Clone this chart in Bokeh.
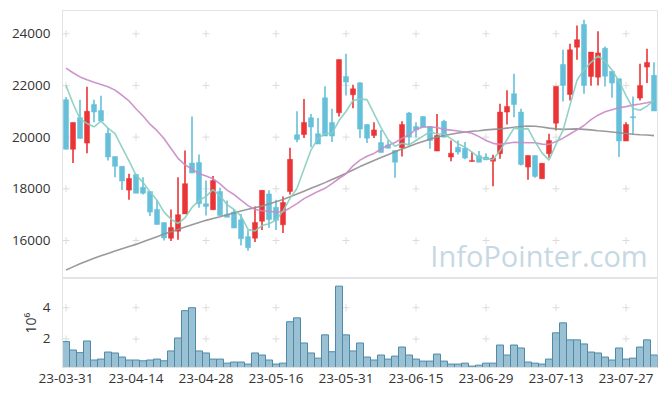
from bokeh.plotting import figure
from bokeh.layouts import column
from bokeh.models import Range1d, FixedTicker, Label, ColumnDataSource
from bokeh.embed import file_html
from bokeh.resources import INLINE

# ---- data ----
opens = [21450, 19530, 20750, 19770, 21260, 21030, 20150, 19250, 18870, 17950,
         18550, 18060, 17900, 17200, 16700, 16090, 16360, 17030, 19000, 19020,
         17420, 17190, 17900, 17000, 17100, 16800, 16150, 16090, 16750, 17800,
         17290, 16610, 17900, 20090, 20100, 20750, 20130, 21520, 20570, 20940,
         22350, 21640, 22100, 20490, 20060, 19790, 19700, 19480, 19590, 20930,
         20410, 20800, 20410, 19460, 20610, 19230, 19610, 19570, 19060, 19280,
         19230, 19070, 19360, 20970, 21680, 20970, 18840, 19290, 18390, 19360,
         20540, 22810, 21650, 23480, 24360, 22350, 22320, 23440, 22550, 22260,
         19850, 20790, 21510, 22710, 22390]
highs = [21550, 20570, 21450, 21950, 21450, 21600, 20350, 19250, 18870, 18580,
         18580, 18450, 17900, 17550, 16700, 17200, 18450, 19480, 20800, 19330,
         18320, 18500, 18040, 17550, 17200, 17030, 16400, 17320, 17940, 17940,
         17580, 17700, 19590, 21000, 21480, 20900, 20740, 21970, 21100, 23000,
         23230, 22030, 22120, 20490, 20580, 20280, 19870, 19480, 20610, 20970,
         20580, 20800, 20410, 20900, 20670, 19870, 19870, 19810, 19420, 19460,
         19380, 19320, 21290, 21810, 22450, 21100, 19290, 19290, 19000, 20130,
         21960, 23380, 23610, 24320, 24540, 23290, 24100, 23510, 22550, 22260,
         20580, 21570, 22840, 23420, 22900]
lows = [19530, 19000, 19950, 19380, 20580, 20620, 19100, 18450, 17950, 17580,
        17830, 17780, 16950, 16620, 16000, 15980, 16030, 17030, 18610, 17270,
        16970, 17190, 16970, 16900, 16480, 15810, 15600, 15940, 16410, 16480,
        16410, 16290, 17780, 19800, 19970, 19610, 19730, 20040, 19810, 20800,
        21610, 21120, 19970, 19770, 19970, 19410, 19570, 18430, 19250, 19680,
        20000, 20390, 19550, 19460, 20000, 19070, 19330, 19140, 19060, 19030,
        19120, 18100, 19160, 20490, 20770, 18900, 18350, 18430, 18390, 19200,
        20260, 21380, 21420, 22990, 21680, 21990, 22000, 21960, 21520, 19230,
        19850, 20100, 21420, 22090, 21010]
closes = [19530, 20570, 19950, 21000, 20970, 20620, 19230, 18870, 18300, 18400,
          17830, 17830, 17100, 16620, 16100, 16500, 17000, 18200, 18610, 17420,
          17320, 18320, 16970, 16900, 16480, 16070, 15720, 16700, 17940, 16810,
          16780, 17470, 19140, 19910, 20570, 20390, 19730, 20040, 20040, 23000,
          22130, 21870, 20310, 19960, 20280, 19410, 19570, 19030, 20490, 20000,
          20280, 20390, 19870, 20060, 20000, 19380, 19420, 19190, 19100, 19030,
          19120, 19190, 20970, 21190, 21260, 18940, 19290, 18480, 18990, 19870,
          21960, 22000, 23380, 23770, 22000, 23290, 23260, 22360, 22090, 19850,
          20490, 20750, 22000, 22890, 21010]
ma5 = [22000, 21300, 20700, 20530, 20400, 20620, 20350, 20140, 19600, 19080,
       18530, 18250, 17890, 17560, 17100, 16830, 16660, 16880, 17280, 17550,
       17710, 17970, 17730, 17390, 17200, 16950, 16430, 16370, 16580, 16650,
       16790, 17140, 17630, 18020, 18770, 19500, 19950, 20130, 20150, 20640,
       20990, 21420, 21470, 21450, 20910, 20370, 19910, 19650, 19760, 19700,
       19870, 20040, 20210, 20120, 20120, 19940, 19750, 19610, 19420, 19220,
       19170, 19130, 19480, 19900, 20350, 20310, 20330, 19830, 19390, 19110,
       19720, 20260, 21240, 22200, 22620, 22890, 23140, 22940, 22600, 22170,
       21610, 21110, 21040, 21200, 21430]
ma20 = [22670, 22490, 22330, 22220, 22120, 22040, 21950, 21820, 21620, 21400,
        21100, 20820, 20500, 20250, 19950, 19560, 19180, 18930, 18760, 18590,
        18500, 18390, 18190, 17950, 17780, 17560, 17350, 17200, 17150, 17130,
        17100, 17110, 17260, 17430, 17620, 17760, 17900, 18020, 18200, 18400,
        18580, 18890, 19110, 19260, 19370, 19540, 19690, 19790, 19950, 20090,
        20300, 20390, 20390, 20370, 20300, 20270, 20240, 20200, 20150, 20020,
        19870, 19760, 19720, 19760, 19800, 19790, 19780, 19780, 19730, 19720,
        19830, 19960, 20120, 20280, 20450, 20680, 20850, 20980, 21060, 21140,
        21180, 21240, 21280, 21330, 21390]
ma60 = [14860, 14980, 15100, 15210, 15310, 15410, 15500, 15590, 15680, 15770,
        15850, 15950, 16050, 16150, 16250, 16340, 16430, 16520, 16610, 16700,
        16780, 16850, 16920, 17000, 17070, 17140, 17210, 17270, 17340, 17410,
        17500, 17590, 17690, 17800, 17910, 18020, 18130, 18240, 18360, 18480,
        18600, 18730, 18860, 18980, 19100, 19210, 19320, 19430, 19540, 19640,
        19740, 19830, 19920, 20000, 20060, 20110, 20160, 20200, 20230, 20250,
        20280, 20300, 20320, 20350, 20380, 20410, 20430, 20420, 20390, 20350,
        20320, 20300, 20310, 20320, 20300, 20280, 20250, 20230, 20200, 20170,
        20140, 20110, 20090, 20080, 20060]
volume_millions = [1.83, 1.29, 1.12, 1.87, 0.65, 0.71, 1.16, 1.10, 0.84, 0.65,
                   0.65, 0.60, 0.65, 0.71, 0.60, 1.23, 2.06, 3.81, 4.00, 1.23,
                   1.10, 0.71, 0.71, 0.45, 0.52, 0.52, 0.39, 1.10, 0.97, 0.65,
                   0.39, 0.45, 3.10, 3.35, 1.74, 1.10, 0.77, 2.26, 1.18, 5.38,
                   2.26, 1.23, 1.74, 0.84, 0.65, 0.97, 0.71, 0.90, 1.48, 0.97,
                   0.71, 0.58, 0.58, 1.03, 0.58, 0.39, 0.39, 0.45, 0.26, 0.32,
                   0.45, 0.45, 1.61, 0.97, 1.61, 1.42, 0.52, 0.45, 0.39, 0.71,
                   2.39, 3.03, 1.94, 1.94, 1.68, 1.16, 1.10, 0.84, 0.65, 1.42,
                   0.71, 0.77, 1.48, 1.94, 0.97]
tick_index = [0, 10, 20, 30, 40, 50, 60, 70, 80]
tick_labels = ["23-03-31", "23-04-14", "23-04-28", "23-05-16", "23-05-31",
               "23-06-15", "23-06-29", "23-07-13", "23-07-27"]
price_ticks = [16000, 18000, 20000, 22000, 24000]
volume_ticks = [2, 4]

UP = "#ea3436"
DOWN = "#66c0da"
FONT = "Open Sans"

n = len(closes)
idx = list(range(n))
colors = [UP if c >= o else DOWN for o, c in zip(opens, closes)]
src = ColumnDataSource(dict(x=idx, o=opens, h=highs, l=lows, c=closes,
                            color=colors, v=volume_millions,
                            ma5=ma5, ma20=ma20, ma60=ma60))

xr = Range1d(-0.5, n - 0.5)

def style(fig):
    fig.xgrid.visible = False
    fig.ygrid.visible = False
    fig.outline_line_color = "#e3e3e3"
    fig.background_fill_color = "white"
    fig.border_fill_color = "white"
    for ax in fig.yaxis:
        ax.axis_line_color = "#e3e3e3"
        ax.major_tick_line_color = None
        ax.minor_tick_line_color = None
        ax.major_label_text_font = FONT
        ax.major_label_text_font_size = "13.5px"
        ax.major_label_text_color = "#333333"
        ax.major_label_standoff = 6
    for ax in fig.xaxis:
        ax.axis_line_color = "#e3e3e3"
        ax.major_tick_line_color = None
        ax.minor_tick_line_color = None
        ax.major_label_text_font = FONT
        ax.major_label_text_font_size = "13.5px"
        ax.major_label_text_color = "#333333"
        ax.major_label_standoff = 0

# ---- price panel ----
p = figure(width=665, height=278, x_range=xr, y_range=Range1d(14530, 24900),
           output_backend="svg", toolbar_location=None,
           min_border_left=62, min_border_right=8, min_border_top=10,
           min_border_bottom=0)
style(p)
p.xaxis.visible = False
p.yaxis.ticker = FixedTicker(ticks=price_ticks)

gx = [t for t in tick_index for _ in price_ticks]
gy = [v for _ in tick_index for v in price_ticks]
p.scatter(gx, gy, marker="cross", size=7, line_color="#dcdcdc", line_width=1)

wm = Label(x=83.1, y=15420, text="InfoPointer.com", text_align="right",
           text_baseline="middle", text_font=FONT, text_font_size="29px",
           text_color="#c6d8e3")
p.add_layout(wm)

p.segment(x0="x", y0="l", x1="x", y1="h", source=src, line_color="color",
          line_width=1.6)
p.vbar(x="x", bottom="o", top="c", width=0.72, source=src, fill_color="color",
       line_color="color", line_width=0.5)

p.line("x", "ma60", source=src, line_color="#8f8f8f", line_width=1.6, line_alpha=0.9)
p.line("x", "ma20", source=src, line_color="#c98ac6", line_width=1.6, line_alpha=0.9)
p.line("x", "ma5", source=src, line_color="#86cdbf", line_width=1.6, line_alpha=0.9)

# ---- volume panel ----
q = figure(width=665, height=107, x_range=xr, y_range=Range1d(0.17, 5.87),
           output_backend="svg", toolbar_location=None,
           min_border_left=62, min_border_right=8, min_border_top=0,
           min_border_bottom=0)
style(q)
q.yaxis.ticker = FixedTicker(ticks=volume_ticks)
q.yaxis.axis_label = "10⁶"
q.yaxis.axis_label_text_font = FONT
q.yaxis.axis_label_text_font_style = "normal"
q.yaxis.axis_label_text_font_size = "14px"
q.yaxis.axis_label_text_color = "#333333"
q.yaxis.axis_label_standoff = 0
q.xaxis.ticker = FixedTicker(ticks=tick_index)
q.xaxis.major_label_overrides = {t: s for t, s in zip(tick_index, tick_labels)}

vgx = [t for t in tick_index for _ in volume_ticks]
vgy = [v for _ in tick_index for v in volume_ticks]
q.scatter(vgx, vgy, marker="cross", size=7, line_color="#dcdcdc", line_width=1)

q.vbar(x="x", top="v", bottom=0, width=1.0, source=src, fill_color="#7fb0c8",
       fill_alpha=0.8, line_color="#4f8aa8", line_width=1)

layout = column(p, q, spacing=0)
open("out.html", "w").write(file_html(layout, INLINE))
